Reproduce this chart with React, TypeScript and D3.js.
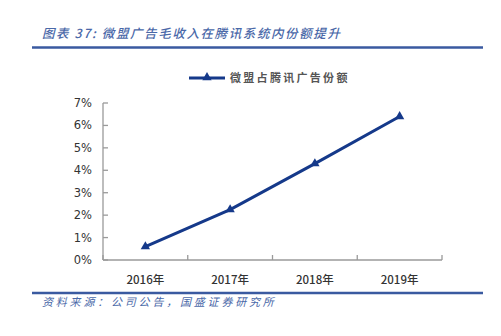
import React from "react";
import * as d3 from "d3";

const categories = ["2016年", "2017年", "2018年", "2019年"];
const shareValues = [0.6, 2.25, 4.3, 6.4];
const yTicks = [0, 1, 2, 3, 4, 5, 6, 7];
const seriesName = "微盟占腾讯广告份额";
const titleText = "图表 37:  微盟广告毛收入在腾讯系统内份额提升";
const sourceText = "资料来源：公司公告，国盛证券研究所";

const W = 501;
const H = 336;
const plot = { left: 103, right: 442, top: 103, bottom: 260 };
const lineColor = "#15398a";
const frameBlue = "#3a5aa0";
const axisGray = "#9a9a9a";

export default function App() {
  const x = d3.scaleBand<string>().domain(categories).range([plot.left, plot.right]);
  const y = d3.scaleLinear().domain([0, 7]).range([plot.bottom, plot.top]);
  const pts: [number, number][] = categories.map((c, i) => [x(c)! + x.bandwidth() / 2, y(shareValues[i])]);
  const line = d3.line();
  const tri = d3.symbol().type(d3.symbolTriangle).size(38);
  const cnFont = "'Noto Sans CJK SC', 'DejaVu Sans', sans-serif";
  const tickBounds = [...categories.map((c) => x(c)!), plot.right];

  return (
    <svg width={W} height={H} style={{ position: "absolute", left: 0, top: 0, background: "#fff" }}>
      <rect x={0} y={0} width={W} height={H} fill="#fff" />
      {/* Title */}
      <text x={42} y={38} fill="#4a68a8" fontFamily={cnFont} fontSize={12.5} fontStyle="italic" fontWeight={500}
        letterSpacing={1.6}>
        {titleText}
      </text>
      <line x1={32} x2={483} y1={47.5} y2={47.5} stroke={frameBlue} strokeWidth={2.5} />

      {/* Legend */}
      <line x1={189} x2={225} y1={78} y2={78} stroke={lineColor} strokeWidth={3} />
      <path d={tri()!} transform="translate(207,77.5)" fill={lineColor} />
      <text x={230} y={82} fill="#555" fontFamily={cnFont} fontSize={11} fontWeight={700} letterSpacing={2.3}>{seriesName}</text>

      {/* Y axis */}
      <line x1={plot.left} x2={plot.left} y1={plot.top} y2={plot.bottom} stroke={axisGray} strokeWidth={1.3} />
      {yTicks.map((t) => (
        <g key={t}>
          <line x1={plot.left} x2={plot.left + 5} y1={y(t)} y2={y(t)} stroke={axisGray} strokeWidth={1.3} />
          <text x={plot.left - 11} y={y(t)} dy="0.35em" textAnchor="end" fill="#333"
            fontFamily="'DejaVu Sans', sans-serif" fontSize={11.5}>{t}%</text>
        </g>
      ))}

      {/* X axis */}
      <line x1={plot.left} x2={plot.right} y1={plot.bottom} y2={plot.bottom} stroke={axisGray} strokeWidth={1.3} />
      {tickBounds.map((b, i) => (
        <line key={i} x1={b} x2={b} y1={plot.bottom} y2={plot.bottom - 5} stroke={axisGray} strokeWidth={1.3} />
      ))}
      {categories.map((c) => (
        <text key={c} x={x(c)! + x.bandwidth() / 2} y={284} textAnchor="middle" fill="#333"
          fontFamily={cnFont} fontSize={11.5} fontWeight={500}>{c}</text>
      ))}

      {/* Series */}
      <path d={line(pts)!} fill="none" stroke={lineColor} strokeWidth={3} />
      {pts.map((p, i) => (
        <path key={i} d={tri()!} transform={`translate(${p[0]},${p[1]})`} fill={lineColor} />
      ))}

      {/* Footer */}
      <line x1={32} x2={483} y1={293} y2={293} stroke={frameBlue} strokeWidth={2.5} />
      <text x={42} y={306} fill="#4a68a8" fontFamily={cnFont} fontSize={11} fontStyle="italic" letterSpacing={2.8}>{sourceText}</text>
    </svg>
  );
}
